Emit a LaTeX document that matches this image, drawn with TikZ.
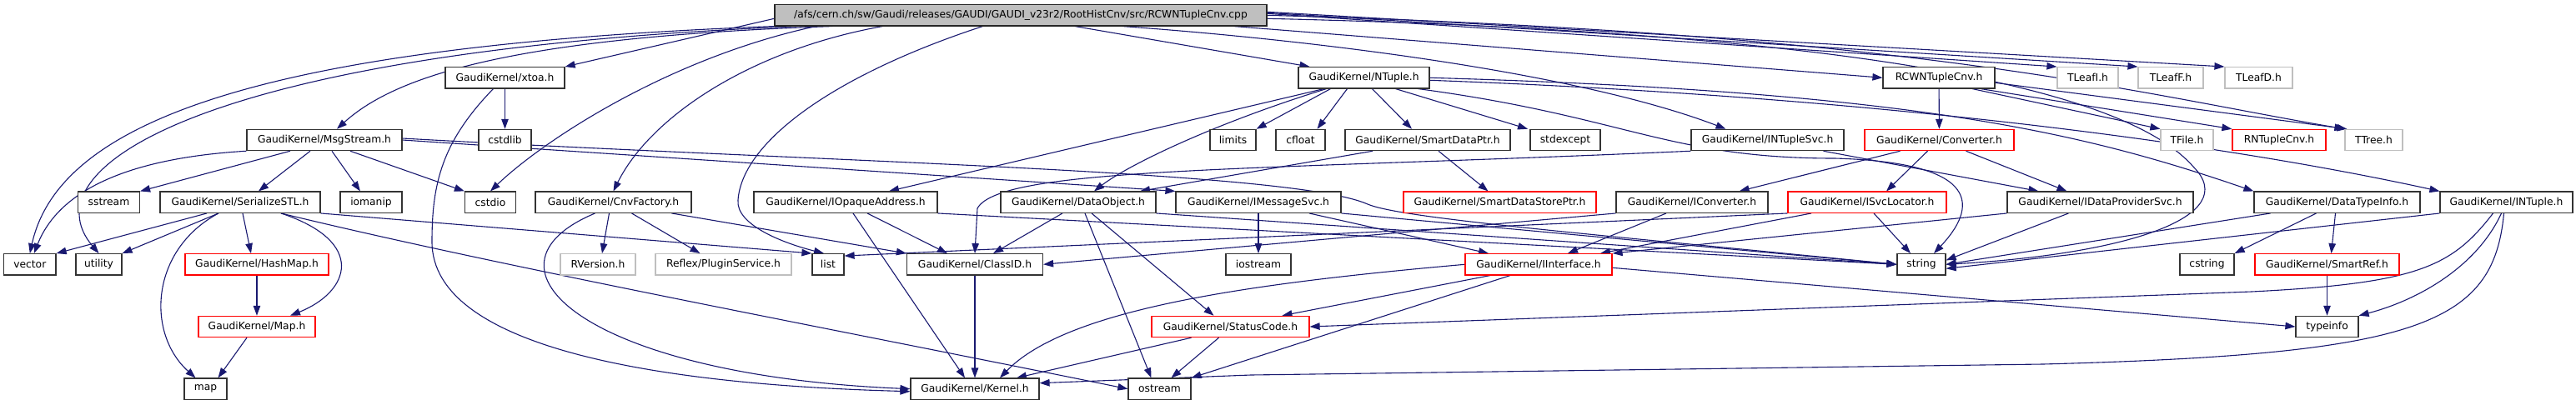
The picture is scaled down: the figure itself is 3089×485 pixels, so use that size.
\documentclass[tikz,border=0pt]{standalone}
\usepackage{fontspec}
\setmainfont{DejaVu Sans}
\usepackage{tikz}
\usetikzlibrary{arrows.meta,backgrounds}
\definecolor{edgeblue}{HTML}{191970}
\definecolor{hdrgray}{HTML}{BFBFBF}
\tikzset{
  hdr/.style={draw=black!80, line width=1.2pt, fill=white, minimum height=25.3, inner sep=0pt, font=\fontsize{12.3}{14}\selectfont},
  hdrred/.style={hdr, draw=red},
  hdrgray/.style={hdr, draw=hdrgray},
  hdrroot/.style={hdr, fill=hdrgray, draw=black!85},
  dep/.style={draw=edgeblue, line width=1.1pt, -{Triangle[length=12pt,width=8.5pt]}}
}

\begin{document}
\begin{tikzpicture}[x=1pt,y=-1pt]
			%%%%% START %%%%%
			\useasboundingbox (0,0) rectangle (3089,485);
			
			% file being documented
			\node[hdrroot, minimum width=590] (root) at (1224,18.3) {/afs/cern.ch/sw/Gaudi/releases/GAUDI/GAUDI\_v23r2/RootHistCnv/src/RCWNTupleCnv.cpp};
			
			% first level
			\node[hdr, minimum width=143] (xtoa) at (605.5,93.3) {GaudiKernel/xtoa.h};
			\node[hdr, minimum width=157] (ntup) at (1635.5,93.3) {GaudiKernel/NTuple.h};
			\node[hdr, minimum width=134] (rcwh) at (2325,93.3) {RCWNTupleCnv.h};
			\node[hdrgray, minimum width=73] (tli) at (2503.5,93.3) {TLeafI.h};
			\node[hdrgray, minimum width=78] (tlf) at (2603,93.3) {TLeafF.h};
			\node[hdrgray, minimum width=81] (tld) at (2708.5,93.3) {TLeafD.h};
			
			\node[hdr, minimum width=186] (msg) at (389,168) {GaudiKernel/MsgStream.h};
			\node[hdr, minimum width=63] (cstdlib) at (605.5,168) {cstdlib};
			\node[hdr, minimum width=55] (limits) at (1478.5,168) {limits};
			\node[hdr, minimum width=59] (cfloat) at (1559.5,168) {cfloat};
			\node[hdr, minimum width=198] (sdp) at (1712,168) {GaudiKernel/SmartDataPtr.h};
			\node[hdr, minimum width=84] (stdexc) at (1877,168) {stdexcept};
			\node[hdr, minimum width=183] (nts) at (2119.5,168) {GaudiKernel/INTupleSvc.h};
			\node[hdrred, minimum width=179] (conv) at (2325.5,168) {GaudiKernel/Converter.h};
			\node[hdrgray, minimum width=63] (tfile) at (2622.5,168) {TFile.h};
			\node[hdrred, minimum width=112] (rntc) at (2733,168) {RNTupleCnv.h};
			\node[hdrgray, minimum width=69] (ttree) at (2846.5,168) {TTree.h};
			
			\node[hdr, minimum width=74] (sstream) at (130.5,242.7) {sstream};
			\node[hdr, minimum width=192] (ser) at (288,242.7) {GaudiKernel/SerializeSTL.h};
			\node[hdr, minimum width=74] (iomanip) at (445,242.7) {iomanip};
			\node[hdr, minimum width=61] (cstdio) at (588,242.7) {cstdio};
			\node[hdr, minimum width=187] (cnvf) at (735.5,242.7) {GaudiKernel/CnvFactory.h};
			\node[hdr, minimum width=220] (iopa) at (1014,242.7) {GaudiKernel/IOpaqueAddress.h};
			\node[hdr, minimum width=186] (dobj) at (1293,242.7) {GaudiKernel/DataObject.h};
			\node[hdr, minimum width=198] (imsg) at (1509,242.7) {GaudiKernel/IMessageSvc.h};
			\node[hdrred, minimum width=231] (sdsp) at (1798.5,242.7) {GaudiKernel/SmartDataStorePtr.h};
			\node[hdr, minimum width=182] (iconv) at (2029,242.7) {GaudiKernel/IConverter.h};
			\node[hdrred, minimum width=190] (isvc) at (2239,242.7) {GaudiKernel/ISvcLocator.h};
			\node[hdr, minimum width=223] (idps) at (2518.5,242.7) {GaudiKernel/IDataProviderSvc.h};
			\node[hdr, minimum width=199] (dti) at (2802.5,242.7) {GaudiKernel/DataTypeInfo.h};
			\node[hdr, minimum width=159] (intup) at (3005.5,242.7) {GaudiKernel/INTuple.h};
			
			\node[hdr, minimum width=62.5] (vector) at (35.8,317.3) {vector};
			\node[hdr, minimum width=55] (utility) at (118.5,317.3) {utility};
			\node[hdrred, minimum width=172] (hmap) at (308,317.3) {GaudiKernel/HashMap.h};
			\node[hdrgray, minimum width=90] (rver) at (717,317.3) {RVersion.h};
			\node[hdrgray, minimum width=163] (reflex) at (867.5,317.3) {Reflex/PluginService.h};
			\node[hdr, minimum width=38] (list) at (993,317.3) {list};
			\node[hdr, minimum width=163] (clid) at (1169,317.3) {GaudiKernel/ClassID.h};
			\node[hdr, minimum width=78] (iostream) at (1509,317.3) {iostream};
			\node[hdrred, minimum width=176] (iif) at (1845,317.3) {GaudiKernel/IInterface.h};
			\node[hdr, minimum width=58] (string) at (2304,317.3) {string};
			\node[hdr, minimum width=65] (cstring) at (2646.5,317.3) {cstring};
			\node[hdrred, minimum width=173] (sref) at (2790.5,317.3) {GaudiKernel/SmartRef.h};
			
			\node[hdrred, minimum width=140] (maph) at (308,392) {GaudiKernel/Map.h};
			\node[hdrred, minimum width=189] (stc) at (1475.5,392) {GaudiKernel/StatusCode.h};
			\node[hdr, minimum width=75] (typeinfo) at (2790.5,392) {typeinfo};
			
			\node[hdr, minimum width=51] (map) at (246.5,466.7) {map};
			\node[hdr, minimum width=154] (kern) at (1169,466.7) {GaudiKernel/Kernel.h};
			\node[hdr, minimum width=75] (ostream) at (1390.5,466.7) {ostream};
			
			\begin{pgfonlayer}{background}
			% includes of the .cpp file
			\draw[dep] (root.south west) .. controls (300,55) and (70,150) .. (vector.north);
			\draw[dep] ([xshift=30]root.south west) .. controls (250,60) and (30,200) .. (utility.north);
			\draw[dep] ([xshift=70]root.south west) .. controls (600,45) and (470,95) .. ([xshift=15]msg.north);
			\draw[dep] ([yshift=-4]root.west) -- (xtoa.north east);
			\draw[dep] ([xshift=50]root.south west) .. controls (800,70) and (650,170) .. (cstdio.north);
			\draw[dep] ([xshift=130]root.south west) .. controls (900,60) and (780,140) .. (cnvf.north);
			\draw[dep] ([xshift=250]root.south west) .. controls (1000,90) and (890,170) .. (885,240) .. controls (882,270) and (940,292) .. ([xshift=-5]list.north);
			\draw[dep] ([xshift=65]root.south) -- ([xshift=-65]ntup.north);
			\draw[dep] ([xshift=122]root.south) .. controls (1600,50) and (1900,90) .. ([xshift=-50]nts.north);
			\draw[dep] ([xshift=-40]root.south east) -- (rcwh.west);
			\draw[dep] ([yshift=2]root.east) -- (tli.north west);
			\draw[dep] ([yshift=3]root.east) -- (tlf.north west);
			\draw[dep] ([yshift=4]root.east) -- (tld.north west);
			\draw[dep] (root.east) .. controls (2300,40) and (2550,110) .. (ttree.north west);
			\draw[dep] ([yshift=-4]root.east) .. controls (2300,40) and (2560,120) .. (2630,200) .. controls (2690,260) and (2550,305) .. (string.east);
			
			% RCWNTupleCnv.h
			\draw[dep] (rcwh) -- (conv);
			\draw[dep] ([xshift=40]rcwh.south) -- (tfile.north west);
			\draw[dep] ([xshift=50]rcwh.south) -- (rntc.north west);
			\draw[dep] ([yshift=-6]rcwh.east) -- ([xshift=3]ttree.north west);
			
			% NTuple.h
			\draw[dep] ([xshift=-48]ntup.south) -- ([xshift=52]iopa.north);
			\draw[dep] ([xshift=-45]ntup.south) .. controls (1450,150) and (1350,200) .. ([xshift=19]dobj.north);
			\draw[dep] ([xshift=-40]ntup.south) -- (limits.north east);
			\draw[dep] ([xshift=-20]ntup.south) -- ([xshift=20]cfloat.north);
			\draw[dep] ([xshift=10]ntup.south) -- ([xshift=-19]sdp.north);
			\draw[dep] ([xshift=38]ntup.south) -- ([xshift=-45]stdexc.north);
			\draw[dep] ([xshift=65]ntup.south) .. controls (1950,140) and (2000,190) .. (2200,190) .. controls (2380,195) and (2370,250) .. ([xshift=15]string.north);
			\draw[dep] (ntup.east) .. controls (2300,110) and (2500,160) .. (dti.north west);
			\draw[dep] ([yshift=-3]ntup.east) .. controls (2300,118) and (2700,180) .. (intup.north west);
			
			\draw[dep] ([xshift=13]sdp.south) -- ([xshift=-14]sdsp.north);
			\draw[dep] ([xshift=-66]sdp.south) -- ([xshift=74]dobj.north);
			
			\draw[dep] ([xshift=67]nts.south) -- ([xshift=-74]idps.north);
			\draw[dep] (nts.south west) .. controls (1500,205) and (1200,200) .. (1172,250) -- (clid.north);
			
			\draw[dep] ([xshift=-47]conv.south) -- ([xshift=-35]iconv.north east);
			\draw[dep] ([xshift=-14]conv.south) -- ([xshift=23]isvc.north);
			\draw[dep] ([xshift=32]conv.south) -- ([xshift=-40]idps.north);
			
			% interfaces
			\draw[dep] ([xshift=-31]iconv.south) -- ([xshift=35]iif.north);
			\draw[dep] (iconv.south west) -- (clid.east);
			\draw[dep] ([xshift=8]isvc.south) -- ([xshift=-13]string.north);
			\draw[dep] ([xshift=-67]isvc.south) -- ([xshift=74]iif.north);
			\draw[dep] (isvc.south west) -- ([yshift=-3]list.north east);
			\draw[dep] ([xshift=-38]idps.south) -- ([yshift=5]string.east);
			\draw[dep] (idps.south west) -- (iif.north east);
			
			\draw[dep] ([xshift=-80]dti.south) -- (string.east);
			\draw[dep] ([xshift=-25]dti.south) -- (cstring.north east);
			\draw[dep] ([xshift=-2]dti.south) -- ([xshift=5]sref.north);
			\draw[dep] (sref) -- (typeinfo);
			
			\draw[dep] (intup.south west) -- ([yshift=-5]string.east);
			\draw[dep] ([xshift=-6]intup.south) .. controls (2970,320) and (2900,360) .. (typeinfo.north east);
			\draw[dep] ([xshift=-16]intup.south) .. controls (2940,320) and (2900,340) .. (2700,350) -- (stc.east);
			\draw[dep] ([xshift=-3]intup.south) .. controls (2990,390) and (2900,425) .. (2450,437) -- (1500,450) -- ([yshift=7]kern.east);
			
			\draw[dep] (iif.west) .. controls (1500,340) and (1280,370) .. ([xshift=30]kern.north);
			\draw[dep] ([xshift=-58]iif.south) -- ([xshift=62]stc.north);
			\draw[dep] ([xshift=-34]iif.south) -- (ostream.north east);
			\draw[dep] ([yshift=-4]iif.east) -- (typeinfo.west);
			
			\draw[dep] (imsg) -- (iostream);
			\draw[dep] (imsg.south east) -- (string.west);
			\draw[dep] ([xshift=61]imsg.south) -- ([xshift=-60]iif.north);
			
			\draw[dep] ([xshift=-19]dobj.south) -- ([xshift=22]clid.north);
			\draw[dep] ([xshift=8]dobj.south) -- ([xshift=-10]ostream.north);
			\draw[dep] ([xshift=16]dobj.south) -- ([xshift=-20]stc.north);
			\draw[dep] (dobj.south east) -- (string.west);
			
			\draw[dep] ([xshift=26]iopa.south) -- ([xshift=-33]clid.north);
			\draw[dep] ([xshift=9]iopa.south) -- ([xshift=-12]kern.north);
			\draw[dep] (iopa.south east) -- (string.west);
			
			\draw[dep] ([xshift=-22]cnvf.south) .. controls (560,320) and (700,450) .. (kern.west);
			\draw[dep] ([xshift=-5]cnvf.south) -- ([xshift=5]rver.north);
			\draw[dep] ([xshift=22]cnvf.south) -- ([xshift=-28]reflex.north);
			\draw[dep] ([xshift=70]cnvf.south) -- (clid.north west);
			
			\draw[dep] (xtoa) -- (cstdlib);
			\draw[dep] ([xshift=-14]xtoa.south) .. controls (530,170) and (518,220) .. (518,290) .. controls (518,420) and (800,462) .. ([yshift=-3]kern.west);
			
			% MsgStream.h and below
			\draw[dep] (msg.south west) .. controls (150,190) and (70,230) .. ([xshift=5]vector.north);
			\draw[dep] ([xshift=-41]msg.south) -- (sstream.north east);
			\draw[dep] ([xshift=-17]msg.south) -- ([xshift=22]ser.north);
			\draw[dep] ([xshift=9]msg.south) -- ([xshift=-13]iomanip.north);
			\draw[dep] ([xshift=31]msg.south) -- (cstdio.north west);
			\draw[dep] (msg.east) -- (imsg.north west);
			\draw[dep] ([yshift=2]msg.east) .. controls (1000,195) and (1550,205) .. (1640,245) .. controls (1680,262) and (1900,280) .. (string.west);
			
			\draw[dep] ([xshift=-40]ser.south) -- (vector.north east);
			\draw[dep] ([xshift=-26]ser.south) -- (utility.north east);
			\draw[dep] ([xshift=-26]ser.south) .. controls (180,300) and (175,400) .. ([xshift=-12]map.north);
			\draw[dep] ([xshift=3]ser.south) -- ([xshift=-7]hmap.north);
			\draw[dep] ([xshift=49]ser.south) .. controls (440,290) and (420,350) .. ([xshift=40]maph.north);
			\draw[dep] (ser.south east) -- (list.north west);
			\draw[dep] ([xshift=49]ser.south) .. controls (600,320) and (1000,395) .. (ostream.west);
			
			\draw[dep] (hmap) -- (maph);
			\draw[dep] ([xshift=-12]maph.south) -- ([xshift=15]map.north);
			
			\draw[dep] (clid) -- (kern);
			\draw[dep] ([xshift=-47]stc.south) -- ([xshift=50]kern.north);
			\draw[dep] ([xshift=-14]stc.south) -- ([xshift=14]ostream.north);
			\end{pgfonlayer}
			%%%%% END %%%%%
\end{tikzpicture}
\end{document}
